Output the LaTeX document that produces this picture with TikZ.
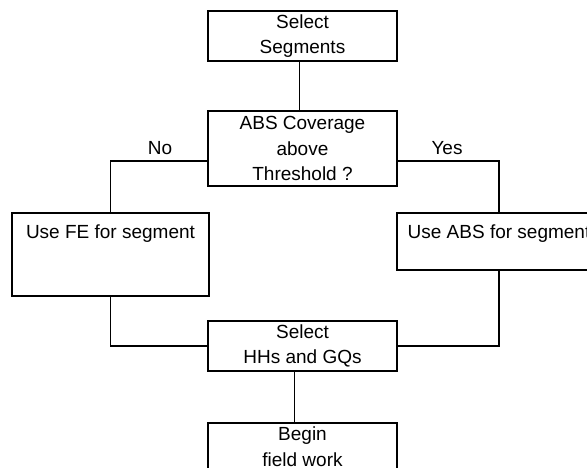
\documentclass[tikz,border=0pt]{standalone}
\usepackage{fontspec}
\setmainfont{Liberation Sans}
\begin{document}
\begin{tikzpicture}[x=1pt,y=-1pt,
  every node/.style={font=\fontsize{19}{25.5}\selectfont},
  box/.style={draw, line width=1.8pt, rectangle, inner sep=0pt, align=center},
  side/.style={line width=1.8pt},
  stem/.style={line width=1pt},
  tag/.style={inner sep=0pt}]
  \useasboundingbox (0,0) rectangle (587,467);
  \clip (0,0) rectangle (587,467);
  \fill[white] (0,0) rectangle (587,467);

  % boxes
  \node[box, minimum width=189pt, minimum height=50pt] (sel) at (302.5,36) {Select\\Segments};
  \node[box, minimum width=189pt, minimum height=75pt] (cov) at (302.5,148.5) {ABS Coverage\\above\\Threshold ?};
  \node[box, minimum width=197pt, text height=26pt, text depth=57pt, anchor=north] (fe) at (110.5,212) {Use FE for segment};
  \node[box, minimum width=204pt, text height=26pt, text depth=31pt, anchor=north] (abs) at (499,212) {Use ABS for segment};
  \node[box, minimum width=189pt, minimum height=50pt] (hhs) at (302.5,346) {Select\\HHs and GQs};
  \node[box, minimum width=189pt, minimum height=48pt, anchor=north] (beg) at (302.5,422) {Begin\\field work};

  % branch labels
  \node[tag] (no) at (160,148) {No};
  \node[tag] (yes) at (447,148) {Yes};

  % connectors
  \draw[stem] ([xshift=-3pt]sel.south) -- ([xshift=-3pt]cov.north);
  \draw[side] ([yshift=-12.5pt]cov.west) -| (fe.north);
  \draw[side] ([yshift=-12.5pt]cov.east) -| (abs.north);
  \draw[side] (fe.south) |- (hhs.west);
  \draw[side] (abs.south) |- (hhs.east);
  \draw[stem] ([xshift=-8pt]hhs.south) -- ([xshift=-8pt]beg.north);
\end{tikzpicture}
\end{document}
